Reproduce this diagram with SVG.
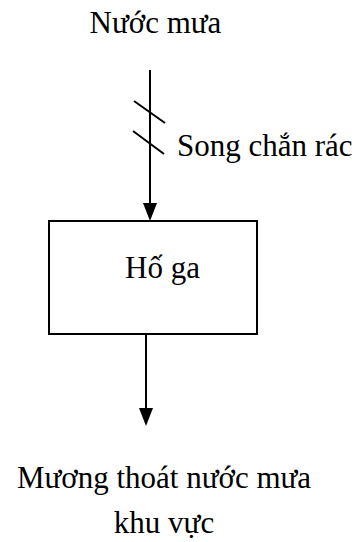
<svg xmlns="http://www.w3.org/2000/svg" width="356" height="542" viewBox="0 0 356 542">
<style>
text{font-family:"Liberation Serif","Times New Roman",serif;font-size:31px;fill:#000}
.ln{stroke:#000;stroke-width:2;fill:none}
.ah{fill:#000}
</style>
<rect width="356" height="542" fill="#fff"/>
<g id="connectors">
<line class="ln" x1="150" y1="70" x2="150" y2="205"/>
<path class="ah" d="M143,203 L157,203 L150,221 Z"/>
<line class="ln" x1="134" y1="101" x2="165" y2="123"/>
<line class="ln" x1="133" y1="131" x2="164" y2="154"/>
<line class="ln" x1="146" y1="334" x2="146" y2="410"/>
<path class="ah" d="M139,408 L153,408 L146,426 Z"/>
</g>
<g id="node-nuoc-mua"><text x="155.5" y="33" text-anchor="middle">Nước mưa</text></g>
<g id="node-song-chan-rac"><text x="177" y="156">Song chắn rác</text></g>
<g id="node-ho-ga">
<rect class="ln" x="49" y="221" width="208" height="113"/>
<text x="162.5" y="278" text-anchor="middle">Hố ga</text>
</g>
<g id="node-muong">
<text x="164" y="488" text-anchor="middle">Mương thoát nước mưa</text>
<text x="164" y="533" text-anchor="middle">khu vực</text>
</g>
</svg>
